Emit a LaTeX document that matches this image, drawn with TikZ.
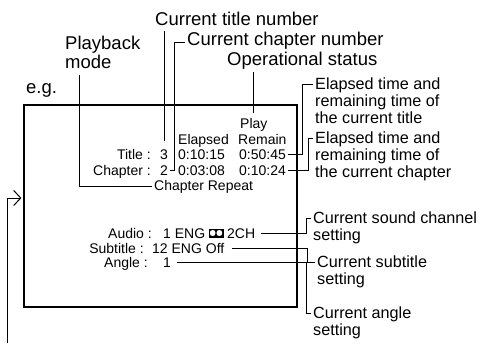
\documentclass[tikz,border=0pt]{standalone}
\usepackage{fontspec}
\setmainfont{Liberation Sans}
\usetikzlibrary{arrows.meta}

\begin{document}
\begin{tikzpicture}[
  x=1pt, y=-1pt,
  callout/.style={font=\fontsize{18.5}{17}\selectfont, anchor=base west, inner sep=2pt, align=left},
  note/.style={font=\fontsize{16.2}{17}\selectfont, anchor=base west, inner sep=2pt, align=left},
  osd/.style={font=\fontsize{14}{15}\selectfont, inner sep=2pt},
  link/.style={line width=1pt},
  frame/.style={draw, line width=2.2pt, minimum width=273pt, minimum height=202pt, inner sep=0pt}
]
  \useasboundingbox (0,0) rectangle (486,343);

  % Screen frame
  \node[frame] (scr) at (160.5,206) {};
  \node[callout] (eg) at (24,93) {e.g.};

  % Callouts on top (multi-line ones sit on their last line)
  \node[callout] (ttl) at (153,25) {Current title number};
  \node[callout] (chp) at (185,45) {Current chapter number};
  \node[callout] (opn) at (225,65) {Operational status};
  \node[callout] (pbm) at (63,68) {Playback\\mode};

  % Callouts on the right
  \node[note] (etl) at (313,123) {Elapsed time and\\remaining time of\\the current title};
  \node[note] (ech) at (313,177) {Elapsed time and\\remaining time of\\the current chapter};
  \node[note] (lsn) at (311,240) {Current sound channel\\setting};
  \node[note] (lsb) at (315,284) {Current subtitle\\setting};
  \node[note] (lan) at (311,335) {Current angle\\setting};

  % On-screen display
  \node[osd, anchor=base west] (ply) at (238,128) {Play};
  \node[osd, anchor=base west] (els) at (176,144) {Elapsed};
  \node[osd, anchor=base west] (rmn) at (236,144) {Remain};
  \node[osd, anchor=base east] (tlb) at (153,159) {Title :};
  \node[osd, anchor=base west] (ttn) at (158,159) {3};
  \node[osd, anchor=base west] (tel) at (176,159) {0:10:15};
  \node[osd, anchor=base west] (tre) at (237,159) {0:50:45};
  \node[osd, anchor=base east] (clb) at (153,175) {Chapter :};
  \node[osd, anchor=base west] (chn) at (158,175) {2};
  \node[osd, anchor=base west] (cel) at (176,175) {0:03:08};
  \node[osd, anchor=base west] (cre) at (237,175) {0:10:24};
  \node[osd, anchor=base west] (rep) at (152,190) {Chapter Repeat};
  \node[osd, anchor=base east] (alb) at (154,238) {Audio :};
  \node[osd, anchor=base west] (aen) at (161,238) {1 ENG};
  \node[osd, anchor=base west] (aud) at (225,238) {2CH};
  \node[osd, anchor=base east] (slb) at (146,253) {Subtitle :};
  \node[osd, anchor=base west] (sub) at (150,253) {12 ENG Off};
  \node[osd, anchor=base east] (nlb) at (150,267) {Angle :};
  \node[osd, anchor=base west] (ang) at (161,267) {1};

  % Dolby mark
  \fill (208.5,228.5) rectangle (223.5,237.5);
  \fill[white, rounded corners=2pt] (210,230.2) rectangle (215.3,235.8);
  \fill[white, rounded corners=2pt] (216.7,230.2) rectangle (222,235.8);

  % Leader lines
  \draw[link, shorten <=4pt, shorten >=6pt] (ttn.north |- ttl.south) -- (ttn.north);
  \draw[link] (chp.mid west) -| ([xshift=4pt]chn.east) -- (chn.east);
  \draw[link, shorten <=1pt, shorten >=3pt] (ply.north |- opn.south) -- (ply.north);
  \draw[link, shorten <=5pt] ([xshift=16pt]pbm.south west) |- (rep.west);
  \draw[link] (tre.east) -| ([xshift=-11pt,yshift=-9.5pt]etl.north west) -- ([yshift=-9.5pt]etl.north west);
  \draw[link] (cre.east) -| ([xshift=-5pt,yshift=-9.5pt]ech.north west) -- ([yshift=-9.5pt]ech.north west);
  \draw[link, shorten <=4pt] (aud.east) -| ([xshift=-5pt,yshift=-9.5pt]lsn.north west) -- ([yshift=-9.5pt]lsn.north west);
  \draw[link, shorten <=5pt] (sub.east) -| ([xshift=-8pt,yshift=-9.5pt]lsb.north west) -- ([yshift=-9.5pt]lsb.north west);
  \draw[link, shorten <=4pt] (ang.east) -| ([xshift=-5pt,yshift=-9.5pt]lan.north west) -- ([yshift=-9.5pt]lan.north west);

  % Input arrow
  \coordinate (feed) at (7,343);
  \draw[link, shorten >=1.5pt, -{Straight Barb[length=7pt,width=15pt]}] (feed) |- ([yshift=8pt]scr.west);
\end{tikzpicture}
\end{document}
